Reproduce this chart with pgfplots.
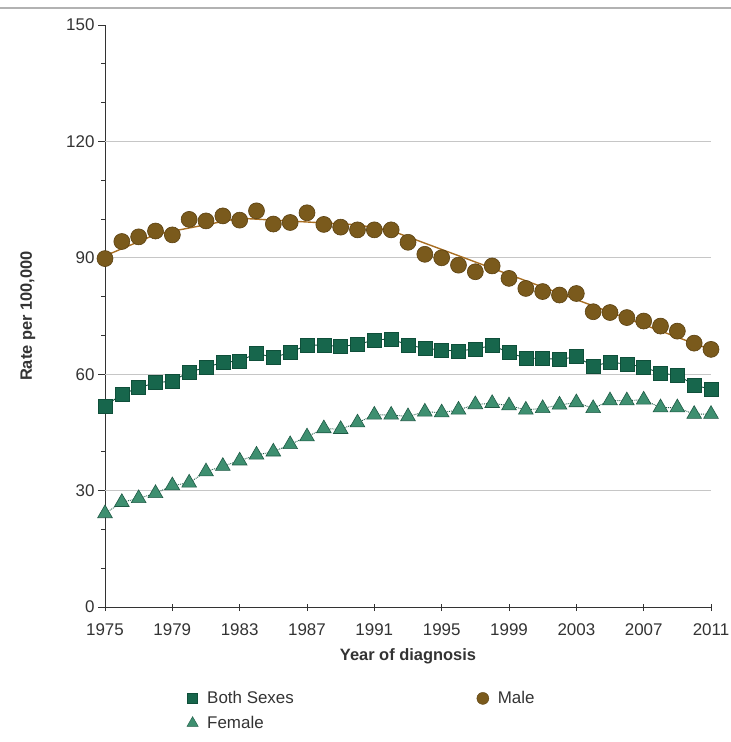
\documentclass[border=0pt]{standalone}
\usepackage{pgfplots}
\pgfplotsset{compat=1.18}
\usepackage{pgfplotstable}
\usepackage{fontspec}
\setmainfont{Liberation Sans}
\definecolor{bothc}{HTML}{17664C}
\definecolor{bothd}{HTML}{0F4F3A}
\definecolor{malec}{HTML}{7A5A1C}
\definecolor{maled}{HTML}{5A4010}
\definecolor{malel}{HTML}{A86E22}
\definecolor{femc}{HTML}{3E8F70}
\definecolor{femd}{HTML}{1E5A45}
\definecolor{txt}{HTML}{333333}
\pgfplotstableread{
year both male female
1975 51.8 89.8 24.1
1976 54.8 94.2 27.0
1977 56.5 95.4 28.0
1978 57.8 96.9 29.3
1979 58.2 95.9 31.3
1980 60.6 99.9 32.0
1981 61.7 99.5 34.9
1982 63.1 100.8 36.3
1983 63.4 99.7 37.7
1984 65.4 102.1 39.2
1985 64.3 98.7 40.0
1986 65.6 99.1 41.9
1987 67.5 101.6 43.9
1988 67.5 98.6 46.0
1989 67.1 97.9 45.8
1990 67.7 97.2 47.5
1991 68.8 97.2 49.5
1992 69.1 97.2 49.5
1993 67.5 94.0 49.1
1994 66.7 90.9 50.3
1995 66.2 90.0 50.1
1996 66.0 88.1 50.8
1997 66.5 86.4 52.2
1998 67.4 87.9 52.5
1999 65.6 84.7 51.9
2000 64.1 82.1 50.8
2001 64.1 81.3 51.2
2002 63.8 80.4 52.1
2003 64.5 80.8 52.7
2004 62.1 76.1 51.2
2005 63.1 75.9 53.2
2006 62.6 74.6 53.2
2007 61.9 73.7 53.4
2008 60.2 72.4 51.4
2009 59.8 71.1 51.4
2010 57.2 68.0 49.7
2011 56.1 66.4 49.7
}\rates
\pgfplotstableread{
year trend
1975 90.5
1978 96.0
1983 100.2
1990 98.5
1992 97.0
2011 66.3
}\maletrend
\begin{document}
\begin{tikzpicture}[x=1bp,y=1bp]
\begin{axis}[
  name=ax, at={(0,0)}, anchor=south west,
  scale only axis, width=606bp, height=582bp,
  xmin=1975, xmax=2011, ymin=0, ymax=150,
  clip=false,
  axis x line*=bottom, axis y line*=left,
  axis line style={txt, line width=0.9bp},
  xtick={1975,1979,...,2011},
  minor x tick num=3,
  ytick={0,30,...,150},
  minor y tick num=2,
  extra y ticks={30,60,90,120},
  extra y tick labels={},
  extra y tick style={grid=major, major tick length=0pt},
  major grid style={gray!45, line width=0.8bp},
  tick align=outside,
  major tick length=7bp, minor tick length=4bp,
  tick style={txt, line width=0.8bp},
  every minor x tick/.append style={yshift=4bp},
  every major x tick/.append style={yshift=3bp},
  /pgf/number format/assume math mode=true,
  /pgf/number format/1000 sep={},
  tick label style={font=\fontsize{17}{19}\selectfont, text=txt},
  xticklabel style={yshift=-6bp},
  xlabel={\textbf{Year of diagnosis}},
  ylabel={\textbf{Rate per 100,000}},
  label style={font=\fontsize{16.5}{19}\selectfont, text=txt},
  xlabel style={yshift=-6bp},
  ylabel style={yshift=17bp},
  legend columns=2,
  legend cell align=left,
  legend style={draw=none, fill=none, at={(0.13,-0.138)}, anchor=north west,
    font=\fontsize{17}{20}\selectfont, text=txt,
    /tikz/every odd column/.append style={column sep=7bp},
    /tikz/every even column/.append style={column sep=181bp},
    row sep=7bp},
]
\addplot[bothd, line width=0.9bp, mark=square*, mark size=7bp,
  mark options={fill=bothc, draw=bothd, line width=0.6bp}, forget plot]
  table[x=year, y=both]{\rates};
\addplot[malel, draw=none, mark=*, mark size=8bp,
  mark options={fill=malec, draw=maled, line width=0.6bp}, forget plot]
  table[x=year, y=male]{\rates};
\addplot[malel, line width=1.4bp, no marks, forget plot]
  table[x=year, y=trend]{\maletrend};
\addplot[femd, line width=0.9bp, densely dotted, mark=triangle*, mark size=8.5bp,
  mark options={solid, fill=femc, draw=femd, line width=0.6bp}, forget plot]
  table[x=year, y=female]{\rates};
\addlegendimage{only marks, mark=square*, mark size=5bp, mark options={fill=bothc, draw=bothd}}
\addlegendentry{Both Sexes}
\addlegendimage{only marks, mark=*, mark size=6bp, mark options={fill=malec, draw=maled}}
\addlegendentry{Male}
\addlegendimage{only marks, mark=triangle*, mark size=6.5bp, mark options={fill=femc, draw=femd}}
\addlegendentry{Female}
\end{axis}
\draw[gray!60, line width=1.5bp] (-105,599) -- (626,599);
\pgfresetboundingbox
\useasboundingbox (-105,-135) rectangle (626,607);
\end{tikzpicture}
\end{document}
